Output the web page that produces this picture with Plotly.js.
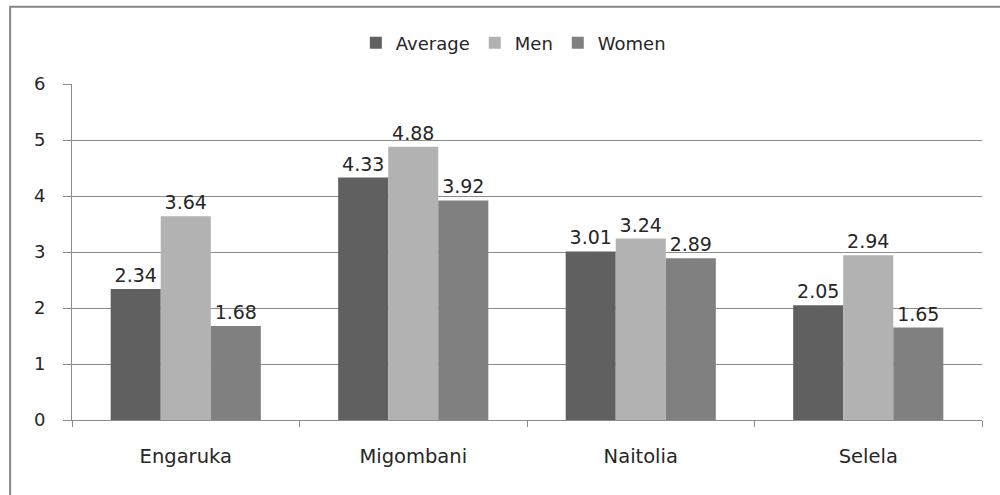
<!DOCTYPE html>
<html>
<head>
<meta charset="utf-8">
<script src="https://cdn.plot.ly/plotly-3.0.1.min.js"></script>
<style>html,body{margin:0;padding:0;background:#fff;}#chart{width:1000px;height:495px;}</style>
</head>
<body>
<div id="chart"></div>
<script>
const categories = ["Engaruka", "Migombani", "Naitolia", "Selela"];
const averageValues = [2.34, 4.33, 3.01, 2.05];
const menValues = [3.64, 4.88, 3.24, 2.94];
const womenValues = [1.68, 3.92, 2.89, 1.65];
const yTicks = [0, 1, 2, 3, 4, 5, 6];

const FONT = "'DejaVu Sans', sans-serif";
const TEXTCOL = "#262626";
function series(name, vals, color) {
  return {
    type: "bar", name: name, x: categories, y: vals,
    marker: {color: color, line: {width: 0}},
    text: vals.map(v => v.toFixed(2)), textposition: "outside",
    textfont: {family: FONT, size: 19, color: TEXTCOL},
    cliponaxis: false, hoverinfo: "skip"
  };
}
const data = [
  series("Average", averageValues, "#606060"),
  series("Men", menValues, "#b2b2b2"),
  series("Women", womenValues, "#808080")
];
const layout = {
  width: 1000, height: 495,
  margin: {l: 72, r: 18, t: 84, b: 75},
  paper_bgcolor: "#fff", plot_bgcolor: "#fff",
  font: {family: FONT, size: 18, color: TEXTCOL},
  barmode: "group", bargap: 0.34, bargroupgap: 0,
  showlegend: true,
  legend: {orientation: "h", x: 0.485, xanchor: "center", y: 1.122, yanchor: "middle",
           font: {family: FONT, size: 18, color: TEXTCOL}, itemwidth: 30, traceorder: "normal"},
  xaxis: {
    type: "category", showline: true, linecolor: "#8c8c8c", linewidth: 1,
    ticks: "outside", tickson: "boundaries", ticklen: 6, tickcolor: "#8c8c8c",
    showgrid: false, ticklabelstandoff: 19,
    tickfont: {family: FONT, size: 19.5, color: TEXTCOL}
  },
  yaxis: {
    range: [0, 6], tickvals: yTicks, showline: true, linecolor: "#8c8c8c", linewidth: 1,
    ticks: "outside", ticklen: 8, tickcolor: "#8c8c8c",
    showgrid: true, gridcolor: "#8c8c8c", gridwidth: 1, zeroline: false,
    ticklabelstandoff: 14,
    tickfont: {family: FONT, size: 18, color: TEXTCOL}
  },
  shapes: [
    {type: "rect", xref: "paper", yref: "paper", x0: -0.068, x1: 1.2, y0: -0.5, y1: 1.23,
     line: {color: "#868686", width: 2}, fillcolor: "rgba(0,0,0,0)", layer: "below"}
  ]
};
Plotly.newPlot("chart", data, layout, {displayModeBar: false, staticPlot: true});
</script>
</body>
</html>
